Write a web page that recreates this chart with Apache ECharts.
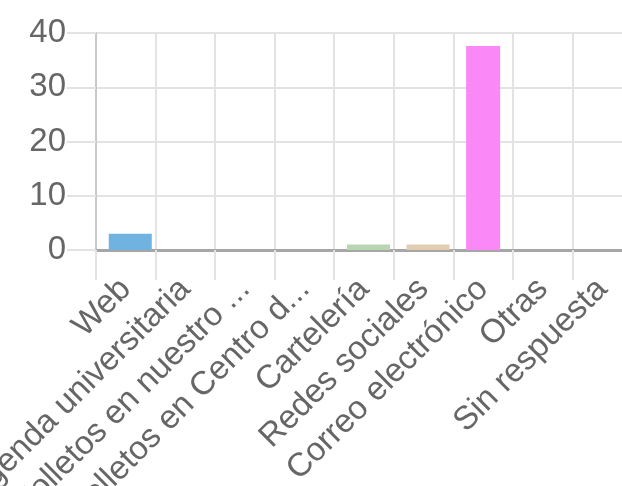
<!DOCTYPE html>
<html>
<head>
<meta charset="utf-8">
<script src="https://cdn.jsdelivr.net/npm/echarts@6/dist/echarts.min.js"></script>
<style>
html,body{margin:0;padding:0;background:#fff;}
#chart{width:622px;height:486px;}
</style>
</head>
<body>
<div id="chart"></div>
<script>
const categories = ['Web', 'Agenda universitaria', 'Folletos en nuestro ...', 'Folletos en Centro d...', 'Cartelería', 'Redes sociales', 'Correo electrónico', 'Otras', 'Sin respuesta'];
const values = [3, 0, 0, 0, 1, 1, 37.6, 0, 0];
const barColors = ['#70b3e0', '#f4a6a6', '#a6c8f4', '#f4e0a6', '#b8d5b2', '#e2cdb0', '#fa88f7', '#c0c0c0', '#c0c0c0'];
const narrowCategories = ['Correo electrónico'];
const yTicks = { min: 0, max: 40, interval: 10 };

const FONT = '"Liberation Sans", Arial, sans-serif';
const chart = echarts.init(document.getElementById('chart'));

function item(v, i) {
  return { value: v, itemStyle: { color: barColors[i] } };
}
const wideData = values.map((v, i) => narrowCategories.includes(categories[i]) ? null : item(v, i));
const narrowData = values.map((v, i) => narrowCategories.includes(categories[i]) ? item(v, i) : null);

chart.setOption({
  animation: false,
  grid: { left: 96, right: -10, top: 33, bottom: 236, containLabel: false, outerBoundsMode: 'none' },
  xAxis: {
    type: 'category',
    data: categories,
    boundaryGap: true,
    axisLine: { show: true, lineStyle: { color: '#a6a6a6', width: 3 } },
    axisTick: { show: true, length: 30, alignWithLabel: false, lineStyle: { color: '#e3e3e3', width: 2 } },
    splitLine: { show: true, interval: 0, lineStyle: { color: '#e3e3e3', width: 2 } },
    axisLabel: {
      interval: 0, rotate: 45, margin: 34, hideOverlap: false,
      color: '#666', fontSize: 33, fontFamily: FONT
    }
  },
  yAxis: {
    type: 'value',
    min: yTicks.min, max: yTicks.max, interval: yTicks.interval,
    axisLine: { show: true, lineStyle: { color: '#c8c8c8', width: 2 } },
    axisTick: { show: true, length: 29, lineStyle: { color: '#e3e3e3', width: 2 } },
    splitLine: { show: true, lineStyle: { color: '#e3e3e3', width: 2 } },
    axisLabel: { margin: 30, color: '#666', fontSize: 33, fontFamily: FONT, padding: [0, 0, 5, 0] }
  },
  series: [
    { type: 'bar', data: wideData, barWidth: 43, barGap: '-100%' },
    { type: 'bar', data: narrowData, barWidth: 34, barGap: '-100%' }
  ]
});
</script>
</body>
</html>
